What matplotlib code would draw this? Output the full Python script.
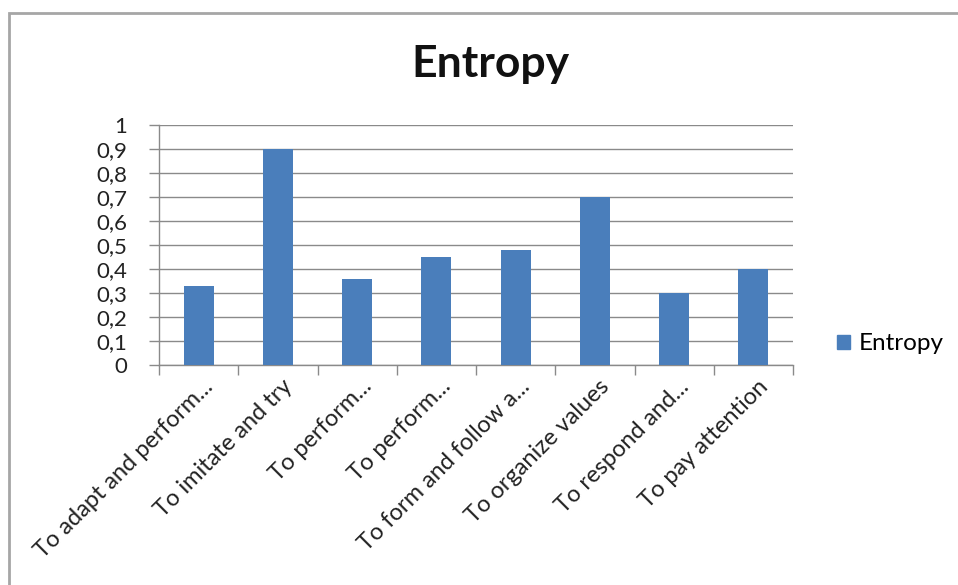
import numpy as np
import matplotlib
matplotlib.use("Agg")
import matplotlib.pyplot as plt
import matplotlib.transforms as mtransforms
from matplotlib.patches import Rectangle, Patch
from matplotlib.ticker import FuncFormatter

# Data
categories = [
    "To adapt and perform...",
    "To imitate and try",
    "To perform...",
    "To perform...",
    "To form and follow a...",
    "To organize values",
    "To respond and...",
    "To pay attention",
]
values = [0.33, 0.90, 0.36, 0.45, 0.48, 0.70, 0.30, 0.40]
series_name = "Entropy"
y_ticks = [0.0, 0.1, 0.2, 0.3, 0.4, 0.5, 0.6, 0.7, 0.8, 0.9, 1.0]

plt.rcParams["font.family"] = ["Lato", "DejaVu Sans"]

W, H = 958, 585
fig = plt.figure(figsize=(W / 100, H / 100), dpi=100)
fig.patch.set_facecolor("white")

# Plot area in pixel coordinates
left, right, top, bottom = 159, 793, 125, 365
ax = fig.add_axes([left / W, 1 - bottom / H, (right - left) / W, (bottom - top) / H])

bar_color = "#4A7EBB"
grid_color = "#8A8A8A"
x = np.arange(len(categories))
ax.bar(x, values, width=0.38, color=bar_color, zorder=3)

ax.set_xlim(-0.5, len(categories) - 0.5)
ax.set_ylim(0, 1)

# Y axis
ax.set_yticks(y_ticks)
ax.yaxis.set_major_formatter(
    FuncFormatter(lambda v, _: ("%g" % round(v, 1)).replace(".", ","))
)
ax.yaxis.grid(True, color=grid_color, linewidth=1.0, zorder=0)
ax.tick_params(axis="y", length=7, width=1, color=grid_color, direction="out",
               labelsize=16, labelcolor="#222222", pad=16)

# X axis: ticks on category boundaries, labels centred under bars
ax.set_xticks(np.arange(-0.5, len(categories), 1.0))
ax.set_xticklabels([])
ax.set_xticks(x, minor=True)
ax.set_xticklabels(categories, minor=True, rotation=45, ha="right",
                   va="center", rotation_mode="anchor", fontsize=17,
                   color="#222222")
ax.tick_params(axis="x", which="major", length=7, width=1, color=grid_color,
               direction="out")
ax.tick_params(axis="x", which="minor", length=0, pad=13)
shift = mtransforms.ScaledTranslation(11 / 100, 0, fig.dpi_scale_trans)
for lbl in ax.get_xticklabels(minor=True):
    lbl.set_transform(lbl.get_transform() + shift)

for side in ("top", "right"):
    ax.spines[side].set_visible(False)
for side in ("left", "bottom"):
    ax.spines[side].set_color(grid_color)
    ax.spines[side].set_linewidth(1.0)
ax.set_axisbelow(True)

# Title
fig.text(490 / W, 1 - 77 / H, "Entropy", ha="center", va="baseline",
         fontsize=32, fontweight="bold", color="#111111")

# Legend
handle = Patch(facecolor=bar_color, edgecolor=bar_color)
fig.legend([handle], [series_name], loc="center left",
           bbox_to_anchor=(837 / W, 1 - 344 / H), frameon=False,
           fontsize=17.5, handlelength=0.55, handleheight=0.55,
           handletextpad=0.35, borderaxespad=0, borderpad=0)

# Outer chart frame
fig.patches.append(Rectangle((9 / W, -0.1), 1.2, 1.1 - 13 / H,
                             transform=fig.transFigure, fill=False,
                             edgecolor="#A6A6A6", linewidth=2))

fig.savefig("out.png", dpi=100)
